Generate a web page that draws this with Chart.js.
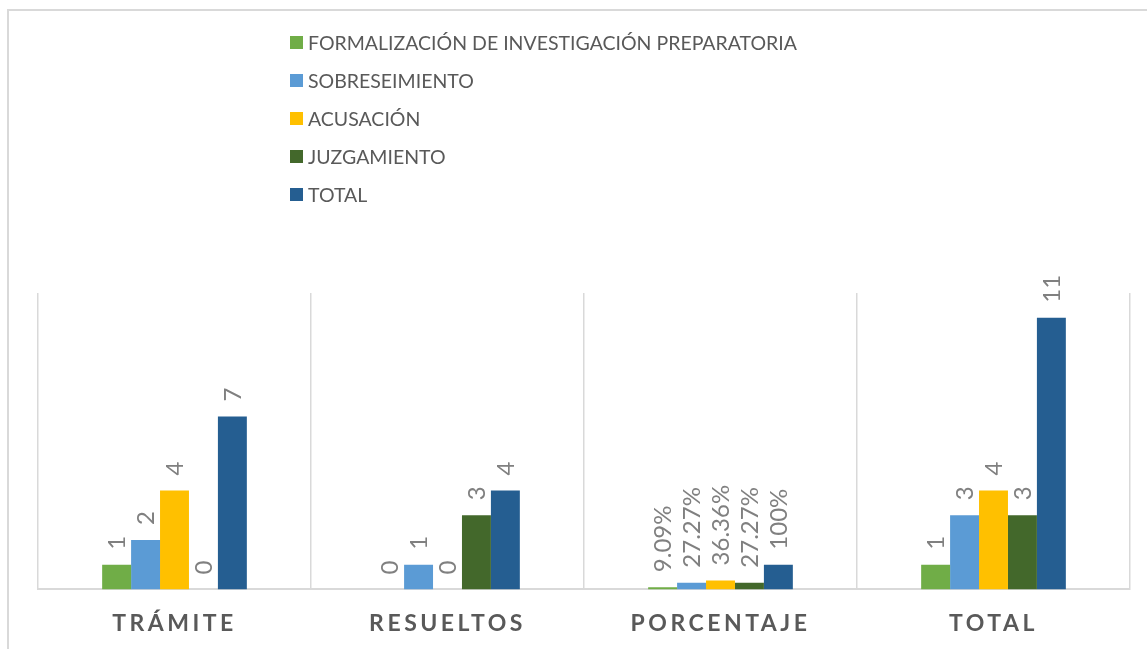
<!DOCTYPE html>
<html lang="es">
<head>
    <meta charset="UTF-8">
    <title>Causas</title>
    <script src="https://cdn.jsdelivr.net/npm/chart.js"></script>
    <style>
        html, body { margin: 0; padding: 0; background: #fff; }
        body { width: 1147px; height: 649px; overflow: hidden; position: relative; font-family: 'Lato', sans-serif; }
        #frame {
            position: absolute; left: 7px; top: 9px; width: 1200px; height: 700px;
            border-top: 2px solid #d9d9d9; border-left: 2px solid #d9d9d9;
        }
        /* el lienzo sobresale por abajo para que el eje quede en y=589 */
        #chartBox { position: absolute; left: 0; top: 0; width: 1147px; height: 668px; }
        #legend { position: absolute; left: 290px; top: 23px; }
        .leg-item { height: 38px; display: flex; align-items: center; color: #595959; font-size: 19.5px; }
        .leg-box { width: 13px; height: 13px; margin-right: 5px; }
    </style>
</head>
<body>
    <div id="frame"></div>
    <div id="chartBox"><canvas id="chart"></canvas></div>
    <div id="legend"></div>

    <script>
        // --- datos ---
        const categories = ['TRÁMITE', 'RESUELTOS', 'PORCENTAJE', 'TOTAL'];
        const seriesNames = ['FORMALIZACIÓN DE INVESTIGACIÓN PREPARATORIA', 'SOBRESEIMIENTO', 'ACUSACIÓN', 'JUZGAMIENTO', 'TOTAL'];
        const formalizacion = [1, 0, 0.0909, 1];
        const sobreseimiento = [2, 1, 0.2727, 3];
        const acusacion = [4, 0, 0.3636, 4];
        const juzgamiento = [0, 3, 0.2727, 3];
        const total = [7, 4, 1, 11];
        const seriesColors = ['#70ad47', '#5b9bd5', '#ffc000', '#43682b', '#255e91'];
        const percentCategory = 2; // la categoría PORCENTAJE muestra sus valores en %

        const seriesValues = [formalizacion, sobreseimiento, acusacion, juzgamiento, total];

        // leyenda vertical en HTML
        const legendEl = document.getElementById('legend');
        seriesNames.forEach((name, i) => {
            const item = document.createElement('div');
            item.className = 'leg-item';
            item.innerHTML = '<span class="leg-box" style="background:' + seriesColors[i] + '"></span>' + name;
            legendEl.appendChild(item);
        });

        function formatLabel(v, catIndex) {
            if (catIndex === percentCategory) {
                return (Math.round(v * 10000) / 100) + '%';
            }
            return String(v);
        }

        // etiquetas de datos giradas sobre cada barra
        const valueLabels = {
            id: 'valueLabels',
            afterDatasetsDraw(chart) {
                const ctx = chart.ctx;
                ctx.save();
                ctx.letterSpacing = '0px';
                ctx.font = '24px Lato';
                ctx.fillStyle = '#808080';
                ctx.textAlign = 'left';
                ctx.textBaseline = 'middle';
                chart.data.datasets.forEach((ds, di) => {
                    const meta = chart.getDatasetMeta(di);
                    meta.data.forEach((bar, i) => {
                        ctx.save();
                        ctx.translate(bar.x, bar.y - 15);
                        ctx.rotate(-Math.PI / 2);
                        ctx.fillText(formatLabel(ds.data[i], i), 0, 1);
                        ctx.restore();
                    });
                });
                ctx.restore();
            }
        };

        // espaciado de letras para las categorías
        const tickSpacing = {
            id: 'tickSpacing',
            beforeDraw(chart) { chart.ctx.letterSpacing = '3.5px'; },
            beforeDatasetsDraw(chart) { chart.ctx.letterSpacing = '0px'; }
        };

        new Chart(document.getElementById('chart'), {
            type: 'bar',
            data: {
                labels: categories,
                datasets: seriesNames.map((name, i) => ({
                    label: name,
                    data: seriesValues[i],
                    backgroundColor: seriesColors[i],
                    borderWidth: 0,
                    categoryPercentage: 0.53,
                    barPercentage: 1
                }))
            },
            options: {
                responsive: true,
                maintainAspectRatio: false,
                animation: false,
                layout: { padding: { left: 38, right: 17, top: 293, bottom: 11 } },
                plugins: { legend: { display: false }, tooltip: { enabled: false } },
                scales: {
                    x: {
                        grid: { color: '#d9d9d9', lineWidth: 1.5, drawTicks: false, offset: true },
                        border: { color: '#d9d9d9', width: 2 },
                        ticks: { color: '#595959', padding: 20, font: { family: 'Lato', size: 23, weight: 'bold' } }
                    },
                    y: { display: false, min: 0, max: 12 }
                }
            },
            plugins: [valueLabels, tickSpacing]
        });
    </script>
</body>
</html>
